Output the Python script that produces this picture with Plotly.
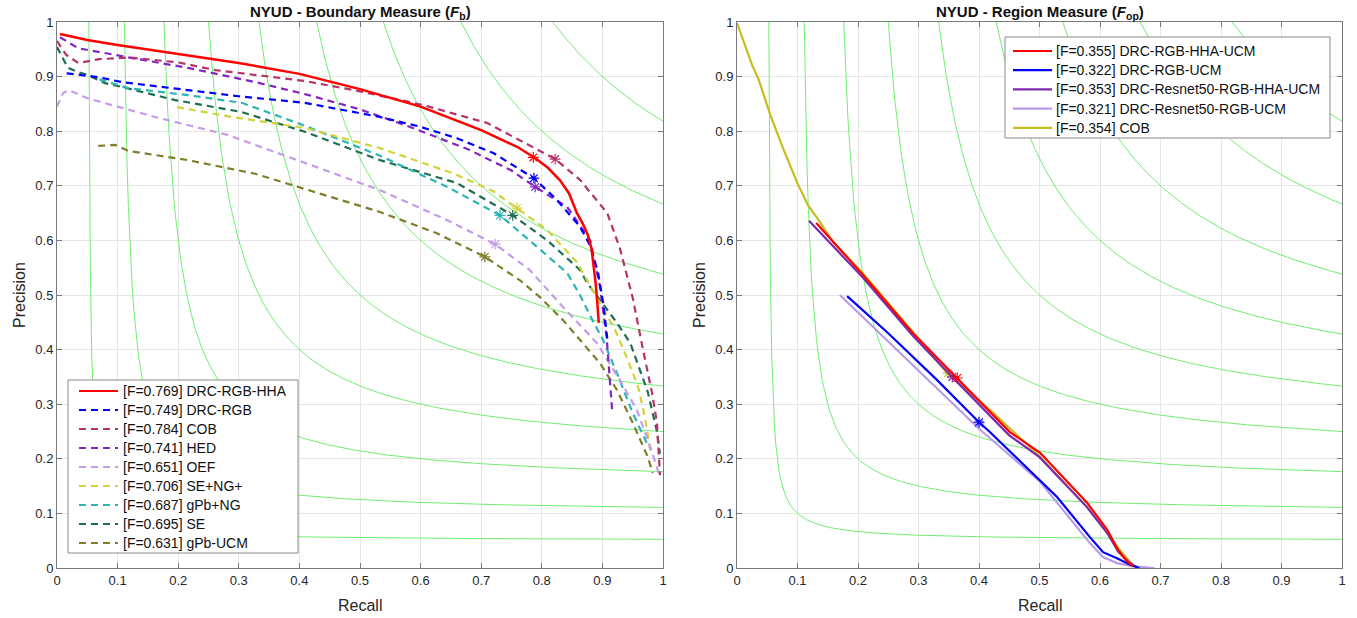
import numpy as np
import plotly.graph_objects as go

# iso-F levels drawn as green background curves
f_levels = [0.1, 0.2, 0.3, 0.4, 0.5, 0.6, 0.7, 0.8, 0.9]

# ---- left panel: boundary measure ----
b_names = ["[F=0.769] DRC-RGB-HHA", "[F=0.749] DRC-RGB", "[F=0.784] COB", "[F=0.741] HED",
           "[F=0.651] OEF", "[F=0.706] SE+NG+", "[F=0.687] gPb+NG", "[F=0.695] SE",
           "[F=0.631] gPb-UCM"]
b_colors = ["#ff0000", "#0000ff", "#b5336a", "#8424c2", "#c49ce8", "#d2d23a", "#2db4b4",
            "#1f6e52", "#7f7f2b"]

rgbhha_r = [0.005, 0.05, 0.1, 0.2, 0.3, 0.4, 0.5, 0.6, 0.7, 0.76, 0.79, 0.81, 0.83, 0.845,
            0.858, 0.868, 0.876, 0.882, 0.886, 0.889, 0.892, 0.894]
rgbhha_p = [0.978, 0.967, 0.958, 0.942, 0.925, 0.905, 0.877, 0.845, 0.802, 0.771, 0.75, 0.733,
            0.71, 0.686, 0.65, 0.63, 0.61, 0.585, 0.55, 0.52, 0.48, 0.449]
rgb_r = [0.016, 0.035, 0.068, 0.107, 0.2, 0.3, 0.409, 0.533, 0.6, 0.66, 0.72, 0.759, 0.787,
         0.825, 0.863, 0.88, 0.893, 0.902, 0.908]
rgb_p = [0.906, 0.903, 0.899, 0.89, 0.877, 0.864, 0.852, 0.826, 0.808, 0.787, 0.76, 0.734,
         0.714, 0.674, 0.625, 0.59, 0.54, 0.48, 0.42]
cob_r = [0.0, 0.015, 0.035, 0.07, 0.12, 0.2, 0.261, 0.33, 0.409, 0.5, 0.604, 0.71, 0.792,
         0.822, 0.863, 0.908, 0.929, 0.95, 0.967, 0.982, 0.99, 0.995]
cob_p = [0.965, 0.94, 0.925, 0.932, 0.935, 0.926, 0.912, 0.903, 0.892, 0.873, 0.848, 0.815,
         0.766, 0.749, 0.711, 0.65, 0.585, 0.495, 0.40, 0.32, 0.266, 0.17]
hed_r = [0.005, 0.035, 0.134, 0.216, 0.327, 0.409, 0.5, 0.587, 0.68, 0.75, 0.789, 0.842, 0.88,
         0.896, 0.907, 0.912, 0.916]
hed_p = [0.972, 0.952, 0.932, 0.916, 0.89, 0.868, 0.84, 0.806, 0.766, 0.728, 0.698, 0.661,
         0.60, 0.515, 0.423, 0.35, 0.29]
oef_r = [0.0, 0.01, 0.02, 0.051, 0.162, 0.282, 0.409, 0.533, 0.644, 0.723, 0.78, 0.835, 0.891,
         0.929, 0.957, 0.979, 0.995]
oef_p = [0.845, 0.87, 0.875, 0.86, 0.826, 0.793, 0.742, 0.692, 0.637, 0.593, 0.546, 0.478,
         0.412, 0.344, 0.289, 0.222, 0.167]
seng_r = [0.198, 0.289, 0.409, 0.533, 0.653, 0.72, 0.759, 0.809, 0.858, 0.896, 0.921, 0.94,
          0.959, 0.97, 0.98]
seng_p = [0.844, 0.826, 0.806, 0.769, 0.723, 0.69, 0.659, 0.619, 0.56, 0.485, 0.436, 0.386,
          0.332, 0.277, 0.21]
gpbng_r = [0.07, 0.117, 0.216, 0.305, 0.409, 0.533, 0.644, 0.731, 0.785, 0.842, 0.863, 0.883,
           0.901, 0.924, 0.95, 0.977]
gpbng_p = [0.895, 0.879, 0.866, 0.852, 0.81, 0.755, 0.698, 0.646, 0.595, 0.54, 0.50, 0.455,
           0.418, 0.357, 0.284, 0.22]
se_r = [0.0, 0.01, 0.018, 0.035, 0.051, 0.079, 0.107, 0.195, 0.305, 0.409, 0.533, 0.66, 0.752,
        0.809, 0.863, 0.875, 0.924, 0.946, 0.975, 0.99, 0.995]
se_p = [0.954, 0.934, 0.916, 0.908, 0.903, 0.888, 0.881, 0.857, 0.835, 0.799, 0.747, 0.705,
        0.646, 0.60, 0.546, 0.522, 0.449, 0.412, 0.322, 0.25, 0.21]
ucm_r = [0.068, 0.096, 0.117, 0.216, 0.327, 0.42, 0.533, 0.627, 0.706, 0.764, 0.797, 0.835,
         0.896, 0.924, 0.95, 0.975, 0.983]
ucm_p = [0.773, 0.775, 0.764, 0.747, 0.722, 0.69, 0.652, 0.613, 0.57, 0.527, 0.496, 0.454,
         0.375, 0.326, 0.266, 0.203, 0.174]

b_curves = [(rgbhha_r, rgbhha_p), (rgb_r, rgb_p), (cob_r, cob_p), (hed_r, hed_p),
            (oef_r, oef_p), (seng_r, seng_p), (gpbng_r, gpbng_p), (se_r, se_p), (ucm_r, ucm_p)]
b_star_r = [0.786, 0.787, 0.822, 0.789, 0.723, 0.759, 0.731, 0.752, 0.706]
b_star_p = [0.752, 0.714, 0.749, 0.698, 0.593, 0.659, 0.646, 0.646, 0.57]

# ---- right panel: region measure ----
r_names = ["[F=0.355] DRC-RGB-HHA-UCM", "[F=0.322] DRC-RGB-UCM",
           "[F=0.353] DRC-Resnet50-RGB-HHA-UCM", "[F=0.321] DRC-Resnet50-RGB-UCM",
           "[F=0.354] COB"]
r_colors = ["#ff0000", "#0000ff", "#7d2aae", "#b89ce8", "#c8bd20"]

hhaucm_r = [0.131, 0.208, 0.291, 0.364, 0.451, 0.501, 0.579, 0.612, 0.63, 0.645, 0.655]
hhaucm_p = [0.632, 0.537, 0.43, 0.348, 0.249, 0.211, 0.119, 0.07, 0.033, 0.012, 0.003]
rgbucm_r = [0.182, 0.25, 0.33, 0.40, 0.418, 0.484, 0.529, 0.583, 0.605, 0.628, 0.65, 0.665]
rgbucm_p = [0.498, 0.43, 0.345, 0.267, 0.249, 0.179, 0.13, 0.057, 0.029, 0.018, 0.006, 0.0]
res_hha_r = [0.119, 0.208, 0.291, 0.36, 0.45, 0.5, 0.578, 0.612, 0.63, 0.648, 0.66]
res_hha_p = [0.636, 0.532, 0.425, 0.345, 0.243, 0.203, 0.112, 0.064, 0.03, 0.01, 0.002]
res_rgb_r = [0.17, 0.25, 0.33, 0.40, 0.446, 0.501, 0.583, 0.605, 0.628, 0.655, 0.69]
res_rgb_p = [0.50, 0.415, 0.33, 0.255, 0.211, 0.158, 0.046, 0.02, 0.009, 0.003, 0.0]
cobr_r = [0.0, 0.013, 0.025, 0.035, 0.055, 0.076, 0.099, 0.117, 0.137, 0.159, 0.208, 0.291,
          0.347, 0.42, 0.5, 0.58, 0.615, 0.635, 0.655]
cobr_p = [0.998, 0.958, 0.921, 0.897, 0.83, 0.769, 0.707, 0.665, 0.634, 0.597, 0.54, 0.432,
          0.357, 0.288, 0.205, 0.11, 0.06, 0.03, 0.005]

r_curves = [(hhaucm_r, hhaucm_p), (rgbucm_r, rgbucm_p), (res_hha_r, res_hha_p),
            (res_rgb_r, res_rgb_p), (cobr_r, cobr_p)]
r_star_r = [0.364, 0.40, 0.356, 0.40, 0.349]
r_star_p = [0.348, 0.267, 0.35, 0.264, 0.357]

# body margin is removed in the page (post_script), so figure px = screen px
W, H = 1357, 618
ML, MT = 57, 22
MR, MB = W - 1342, H - 568
PW, PH = W - ML - MR, H - MT - MB


def px(x):
    return (x - ML) / PW


def py(y):
    return (H - MB - y) / PH


fig = go.Figure()

# green iso-F lines on both panels
for xa, ya in [("x", "y"), ("x2", "y2")]:
    for f in f_levels:
        rr = np.linspace(f / (2 - f), 1, 400)
        pp = f * rr / (2 * rr - f)
        fig.add_trace(go.Scatter(x=rr, y=pp, mode="lines", xaxis=xa, yaxis=ya,
                                 line=dict(color="#72ee72", width=1), hoverinfo="skip"))

for i in reversed(range(len(b_names))):
    r, p = b_curves[i]
    fig.add_trace(go.Scatter(x=r, y=p, mode="lines", name=b_names[i],
                             line=dict(color=b_colors[i], width=2.5 if i == 0 else 2.2,
                                       dash="solid" if i == 0 else "7px,5px")))
    fig.add_trace(go.Scatter(x=[b_star_r[i]], y=[b_star_p[i]], mode="markers",
                             marker=dict(symbol="asterisk-open", size=9, color=b_colors[i],
                                         line=dict(color=b_colors[i], width=1.2))))

for i in reversed(range(len(r_names))):
    r, p = r_curves[i]
    fig.add_trace(go.Scatter(x=r, y=p, mode="lines", name=r_names[i], xaxis="x2", yaxis="y2",
                             line=dict(color=r_colors[i], width=2.2)))
    fig.add_trace(go.Scatter(x=[r_star_r[i]], y=[r_star_p[i]], mode="markers",
                             xaxis="x2", yaxis="y2",
                             marker=dict(symbol="asterisk-open", size=9, color=r_colors[i],
                                         line=dict(color=r_colors[i], width=1.2))))

ticks = [round(0.1 * k, 1) for k in range(11)]
ticktext = ["0"] + [str(t) for t in ticks[1:-1]] + ["1"]
ax = dict(range=[0, 1], tickvals=ticks, ticktext=ticktext, showgrid=True, automargin=False,
          gridcolor="#e6e6e6", gridwidth=1, zeroline=False, showline=True, linecolor="#7a7a7a",
          linewidth=1, mirror="ticks", ticks="inside", ticklen=5, tickcolor="#7a7a7a",
          tickfont=dict(size=13, color="#262626"))

shapes = []
annots = []
font = "Liberation Sans, Arial, sans-serif"


def add_legend(x0, y0, x1, y1, sx0, sx1, tx, ys, names, colors, dashes):
    shapes.append(dict(type="rect", xref="paper", yref="paper", x0=px(x0), x1=px(x1),
                       y0=py(y0), y1=py(y1), fillcolor="white",
                       line=dict(color="#8a8a8a", width=1)))
    for k, (nm, c, d) in enumerate(zip(names, colors, dashes)):
        yy = ys[0] + k * ys[1]
        shapes.append(dict(type="line", xref="paper", yref="paper", x0=px(sx0), x1=px(sx1),
                           y0=py(yy), y1=py(yy), line=dict(color=c, width=2.2, dash=d)))
        annots.append(dict(text=nm, x=px(tx), y=py(yy), xref="paper", yref="paper",
                           xanchor="left", yanchor="middle", showarrow=False,
                           font=dict(size=14, color="#111111", family=font)))


add_legend(68, 380, 298, 553, 79, 118, 121, (391, 19.0), b_names, b_colors,
           ["solid"] + ["7px,5px"] * 8)
add_legend(1005, 37, 1330, 138, 1013, 1052, 1054, (51, 19.2), r_names, r_colors,
           ["solid"] * 5)

for cx in [(57 + 663) / 2, (737 + 1342) / 2]:
    annots.append(dict(text="Recall", x=px(cx), y=py(605), xref="paper", yref="paper",
                       xanchor="center", yanchor="middle", showarrow=False,
                       font=dict(size=16, color="#262626", family=font)))
for cx in [19, 699]:
    annots.append(dict(text="Precision", x=px(cx), y=py(295), xref="paper", yref="paper",
                       xanchor="center", yanchor="middle", showarrow=False, textangle=-90,
                       font=dict(size=16, color="#262626", family=font)))
annots.append(dict(text="<b>NYUD - Boundary Measure (<i>F</i><sub>b</sub>)</b>",
                   x=px((57 + 663) / 2), y=py(2), xref="paper", yref="paper",
                   xanchor="center", yanchor="top", showarrow=False, borderpad=0,
                   font=dict(size=15, color="#111111", family=font)))
annots.append(dict(text="<b>NYUD - Region Measure (<i>F</i><sub>op</sub>)</b>",
                   x=px((737 + 1342) / 2), y=py(2), xref="paper", yref="paper",
                   xanchor="center", yanchor="top", showarrow=False, borderpad=0,
                   font=dict(size=15, color="#111111", family=font)))

fig.update_layout(
    width=W, height=H, margin=dict(l=ML, r=MR, t=MT, b=MB), showlegend=False,
    paper_bgcolor="white", plot_bgcolor="white",
    font=dict(family=font, color="#262626"),
    xaxis=dict(ax, domain=[0, px(663)], anchor="y"),
    yaxis=dict(ax, domain=[0, 1], anchor="x"),
    xaxis2=dict(ax, domain=[px(737), 1], anchor="y2"),
    yaxis2=dict(ax, domain=[0, 1], anchor="x2"),
    shapes=shapes, annotations=annots,
)

fig.write_html("out.html", config={"displayModeBar": False},
               post_script="document.body.style.margin='0';")
